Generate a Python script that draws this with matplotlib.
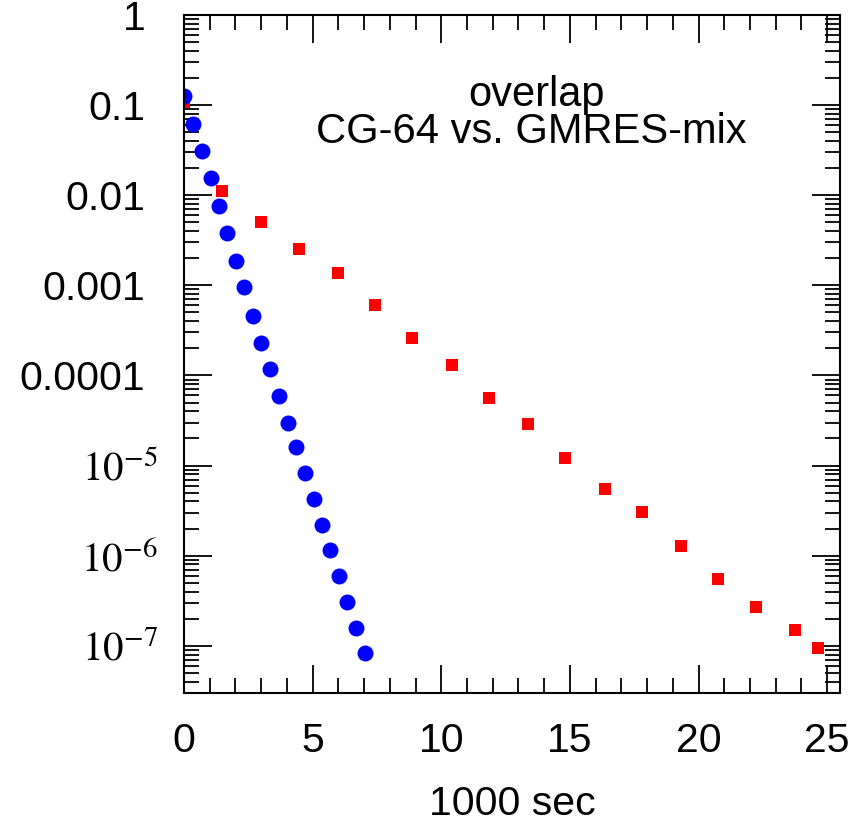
import matplotlib
matplotlib.use('Agg')
import matplotlib.pyplot as plt
from matplotlib.ticker import LogLocator, MultipleLocator, NullFormatter
from matplotlib.transforms import ScaledTranslation

# CG-64 (blue circles)
cg_time = [0.0, 0.34, 0.70, 1.03, 1.36, 1.68, 2.02, 2.34, 2.69, 3.00, 3.34,
           3.69, 4.03, 4.35, 4.70, 5.04, 5.36, 5.68, 6.03, 6.34, 6.68, 7.02]
cg_res = [0.126, 0.0616, 0.0307, 0.0155, 0.00766, 0.00378, 0.00187, 0.000968,
          0.000462, 0.000228, 0.000118, 5.89e-5, 3.0e-5, 1.59e-5, 8.26e-6,
          4.25e-6, 2.21e-6, 1.15e-6, 6.0e-7, 3.03e-7, 1.58e-7, 8.3e-8]

# GMRES-mix (red squares)
gm_time = [0.0, 1.46, 3.01, 4.46, 5.98, 7.42, 8.87, 10.41, 11.85, 13.37,
           14.81, 16.35, 17.80, 19.30, 20.77, 22.22, 23.75, 24.64]
gm_res = [0.108, 0.0110, 0.00508, 0.00251, 0.00137, 0.000601, 0.000263,
          0.000129, 5.65e-5, 2.90e-5, 1.21e-5, 5.56e-6, 3.07e-6, 1.27e-6,
          5.56e-7, 2.72e-7, 1.50e-7, 9.4e-8]

x_ticks = [0, 5, 10, 15, 20, 25]
y_ticks = [1, 0.1, 0.01, 0.001, 0.0001, 1e-5, 1e-6, 1e-7]
y_labels = ['1', '0.1', '0.01', '0.001', '0.0001',
            r'$10^{-5}$', r'$10^{-6}$', r'$10^{-7}$']

plt.rcParams['font.family'] = ['Liberation Sans', 'DejaVu Sans']
plt.rcParams['mathtext.fontset'] = 'stix'

fig = plt.figure(figsize=(8.62, 8.26), dpi=100)
ax = fig.add_axes([0.2135, 0.161, 0.761, 0.821])

ax.plot(gm_time, gm_res, 's', color='#ff0000', markersize=8.4, markeredgewidth=0)
ax.plot(cg_time, cg_res, 'o', color='#0000ff', markersize=11.5, markeredgewidth=0)

ax.set_yscale('log')
ax.set_xlim(0, 25.5)
ax.set_ylim(3.0e-8, 1)

ax.set_xticks(x_ticks)
ax.set_xticklabels([str(t) for t in x_ticks])
ax.xaxis.set_minor_locator(MultipleLocator(1))
ax.set_yticks(y_ticks)
ax.set_yticklabels(y_labels)
ax.yaxis.set_minor_locator(LogLocator(base=10, subs=range(2, 10), numticks=20))
ax.yaxis.set_minor_formatter(NullFormatter())

ax.tick_params(which='both', direction='in', top=True, right=True, width=1.3,
               color='black')
ax.tick_params(which='major', length=20, labelsize=29.5)
ax.tick_params(axis='y', which='major', pad=28)
ax.tick_params(axis='x', which='major', pad=21)
ax.tick_params(which='minor', length=11)
for s in ax.spines.values():
    s.set_linewidth(1.5)

# the power-of-ten labels sit a bit closer to the axis in the original
shift = ScaledTranslation(0.13, 0, fig.dpi_scale_trans)
for lab in ax.get_yticklabels()[5:]:
    lab.set_transform(lab.get_transform() + shift)

ax.set_xlabel('1000 sec', fontsize=29.5, labelpad=18)

ax.text(0.538, 0.882, 'overlap', transform=ax.transAxes, ha='center',
        va='center', fontsize=30)
ax.text(0.530, 0.827, 'CG-64 vs. GMRES-mix', transform=ax.transAxes,
        ha='center', va='center', fontsize=30)

plt.savefig('out.png', dpi=100)
